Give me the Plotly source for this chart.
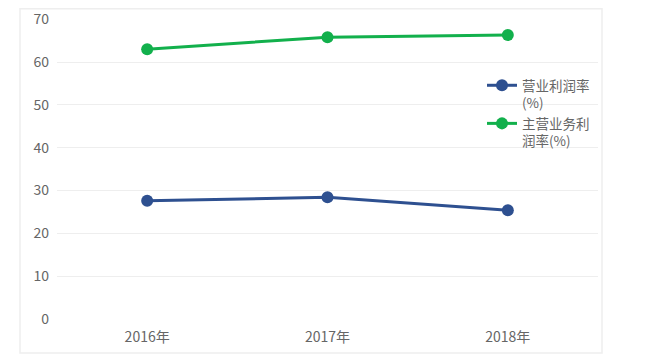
import plotly.graph_objects as go

categories = ["2016年", "2017年", "2018年"]
op_margin = [27.6, 28.4, 25.4]
main_margin = [63.0, 65.8, 66.3]
series_names = ["营业利润率<br>(%)", "主营业务利<br>润率(%)"]
y_ticks = [0, 10, 20, 30, 40, 50, 60, 70]

# page body has an 8px default margin; work in page pixels and shift
OFF = 8
W, H = 660 - OFF, 362 - OFF
px_l, px_r, px_t, px_b = 57, 598, 19, 319  # plot area in page pixels
L, R, T, B = px_l - OFF, W - (px_r - OFF), px_t - OFF, H - (px_b - OFF)
pw = W - L - R
ph = H - T - B


def xp(px):
    return (px - px_l) / pw


def yp(py):
    return (px_b - py) / ph


fig = go.Figure()
fig.add_trace(go.Scatter(
    x=categories, y=op_margin, name=series_names[0], mode="lines+markers",
    line=dict(color="#2e5090", width=3), marker=dict(size=12, color="#2e5090")))
fig.add_trace(go.Scatter(
    x=categories, y=main_margin, name=series_names[1], mode="lines+markers",
    line=dict(color="#12b04c", width=3), marker=dict(size=12, color="#12b04c")))

font = "Noto Sans CJK SC, Microsoft YaHei, sans-serif"
fig.update_layout(
    width=W, height=H,
    margin=dict(l=L, r=R, t=T, b=B, pad=0),
    paper_bgcolor="white", plot_bgcolor="white",
    font=dict(family=font, size=14, color="#666666"),
    showlegend=True,
    legend=dict(x=xp(482), y=yp(70), xanchor="left", yanchor="top",
                bgcolor="rgba(0,0,0,0)", font=dict(size=13.5, color="#666666"),
                valign="top", tracegroupgap=0, itemwidth=30),
    xaxis=dict(type="category", range=[-0.5, 2.5], showgrid=False, zeroline=False,
               showline=False, ticks="", automargin=False, ticklabelstandoff=8,
               tickfont=dict(size=14, color="#666666")),
    yaxis=dict(range=[0, 70.04], tickvals=y_ticks, showgrid=True, gridcolor="#eeeeee",
               gridwidth=1, zeroline=False, showline=False, ticks="", automargin=False,
               ticklabelstandoff=7, tickfont=dict(size=14, color="#666666")),
    shapes=[dict(type="rect", xref="paper", yref="paper",
                 x0=xp(20), x1=xp(602),
                 y0=yp(353), y1=yp(OFF + 0.8),
                 line=dict(color="#eeeeee", width=1.5), layer="below")],
)
fig.write_html("out.html")
